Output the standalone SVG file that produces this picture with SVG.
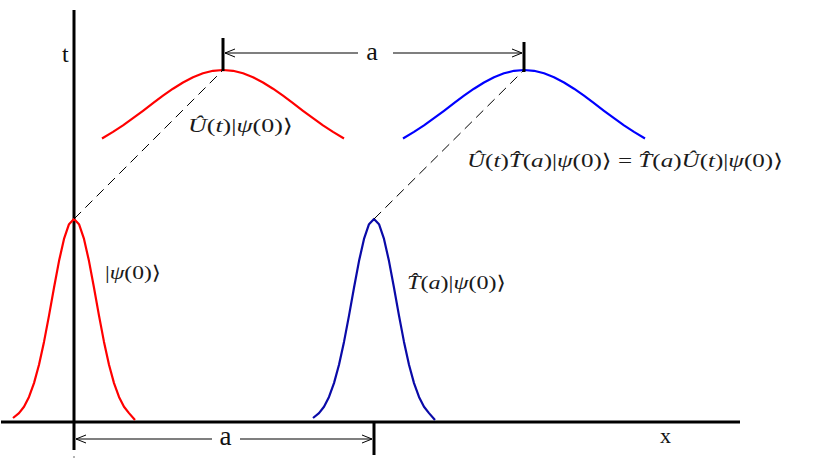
<svg xmlns="http://www.w3.org/2000/svg" width="819" height="460" viewBox="0 0 819 460">
  <style>
    .axis { stroke: #000; stroke-width: 3; fill: none; }
    .tick { stroke: #000; stroke-width: 3; fill: none; }
    .dim { stroke: #000; stroke-width: 1.2; fill: none; }
    .dash { stroke: #000; stroke-width: 1; stroke-dasharray: 10 6; fill: none; }
    .curve { fill: none; stroke-width: 2.2; stroke-linejoin: round; stroke-linecap: butt; }
    .lbl { fill: #111; font-family: 'Liberation Serif', 'Times New Roman', serif; }
    .math { fill: #1a1a1a; font-size: 19px; font-family: 'Liberation Serif', 'DejaVu Serif', serif; }
    .it { font-style: italic; }
  </style>
  <defs>
    <marker id="arr" viewBox="-12 -6 14 12" markerWidth="14" markerHeight="12" refX="0" refY="0" orient="auto-start-reverse" markerUnits="userSpaceOnUse">
      <path d="M-10,-4 L0,0 L-10,4" fill="none" stroke="#000" stroke-width="1"/>
    </marker>
    <path id="wide" d="M-121,68.5 L-110,61.9 L-100,55.4 L-90,48.2 L-80,40.8 L-70,33.2 L-60,25.7 L-50,18.7 L-40,12.5 L-30,7.2 L-20,3.3 L-10,0.8 L0,0 L10,0.8 L20,3.3 L30,7.2 L40,12.5 L50,18.7 L60,25.7 L70,33.2 L80,40.8 L90,48.2 L100,55.4 L110,61.9 L121,68.5"/>
    <path id="narrow" d="M-61,199 L-55,194.1 L-50,187.7 L-45,177.9 L-40,164.1 L-35,145.7 L-30,122.9 L-25,96.6 L-20,68.7 L-15,42.1 L-10,19.9 L-5,5.2 L0,0 L5,5.2 L10,19.9 L15,42.1 L20,68.7 L25,96.6 L30,122.9 L35,145.7 L40,164.1 L45,177.9 L50,187.7 L55,194.1 L61,201"/>
  </defs>

  <g id="axes">
    <line class="axis" x1="74" y1="10" x2="74" y2="450"/>
    <line class="axis" x1="1" y1="422" x2="740" y2="422"/>
    <text class="lbl" x="62" y="62" font-size="24">t</text>
    <text class="lbl" x="660" y="443" font-size="22">x</text>
    <circle cx="74" cy="457" r="0.8" fill="#555"/>
  </g>

  <g id="psi0">
    <use href="#narrow" x="74" y="219" class="curve" stroke="#ff0000"/>
    <text class="math" x="105" y="279" textLength="56" lengthAdjust="spacingAndGlyphs">|<tspan class="it">ψ</tspan>(0)⟩</text>
  </g>

  <g id="Tpsi0">
    <use href="#narrow" x="374" y="219" class="curve" stroke="#0a0aa8"/>
    <text class="math" x="407" y="289" textLength="99" lengthAdjust="spacingAndGlyphs"><tspan class="it">T̂</tspan>(<tspan class="it">a</tspan>)|<tspan class="it">ψ</tspan>(0)⟩</text>
  </g>

  <g id="Upsi0">
    <use href="#wide" x="223" y="70" class="curve" stroke="#ff0000"/>
    <text class="math" x="188" y="132" textLength="105" lengthAdjust="spacingAndGlyphs"><tspan class="it">Û</tspan>(<tspan class="it">t</tspan>)|<tspan class="it">ψ</tspan>(0)⟩</text>
  </g>

  <g id="UTpsi0">
    <use href="#wide" x="524" y="70" class="curve" stroke="#0000ff"/>
    <text class="math" x="467" y="167" textLength="316" lengthAdjust="spacingAndGlyphs"><tspan class="it">Û</tspan>(<tspan class="it">t</tspan>)<tspan class="it">T̂</tspan>(<tspan class="it">a</tspan>)|<tspan class="it">ψ</tspan>(0)⟩ = <tspan class="it">T̂</tspan>(<tspan class="it">a</tspan>)<tspan class="it">Û</tspan>(<tspan class="it">t</tspan>)|<tspan class="it">ψ</tspan>(0)⟩</text>
  </g>

  <g id="connectors">
    <line class="dash" x1="74" y1="219" x2="223" y2="70"/>
    <line class="dash" x1="374" y1="219" x2="524" y2="70"/>
    <line class="tick" x1="223" y1="38" x2="223" y2="71"/>
    <line class="tick" x1="524" y1="42" x2="524" y2="72"/>
    <line class="tick" x1="374" y1="422" x2="374" y2="455"/>
    <line class="dim" x1="225" y1="53" x2="358" y2="53" marker-start="url(#arr)"/>
    <line class="dim" x1="393" y1="53" x2="522" y2="53" marker-end="url(#arr)"/>
    <text class="lbl" x="372" y="60" font-size="26" text-anchor="middle">a</text>
    <line class="dim" x1="76" y1="439" x2="212" y2="439" marker-start="url(#arr)"/>
    <line class="dim" x1="240" y1="439" x2="372" y2="439" marker-end="url(#arr)"/>
    <text class="lbl" x="225.5" y="445" font-size="27" text-anchor="middle">a</text>
  </g>
</svg>
